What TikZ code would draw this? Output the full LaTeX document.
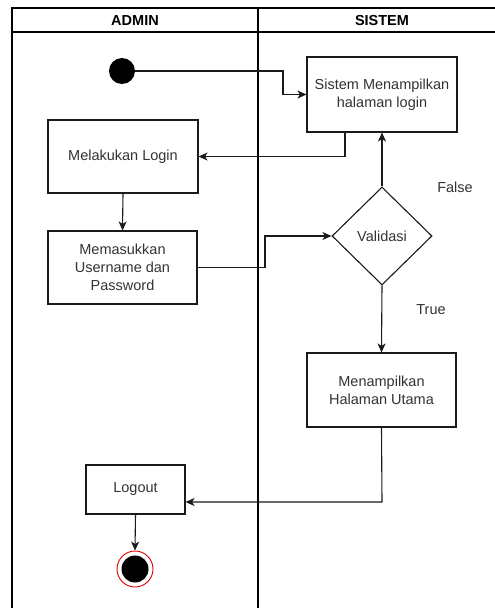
\documentclass[tikz,border=0pt]{standalone}
\usepackage{fontspec}
\setmainfont{Liberation Sans}
\usetikzlibrary{arrows.meta,shapes.geometric}
\definecolor{txt}{HTML}{333333}
\definecolor{ln}{HTML}{1A1A1A}
\tikzset{
  box/.style={draw=ln, line width=1.1pt, rectangle, align=center, text=txt, inner sep=2pt,
    font=\fontsize{14.5}{18}\selectfont},
  lab/.style={text=txt, font=\fontsize{14.5}{18}\selectfont, inner sep=0pt},
  head/.style={font=\bfseries\fontsize{14.5}{18}\selectfont, text=black, inner sep=0pt},
  frame/.style={draw=black, line width=1.4pt},
  flow/.style={draw=ln, line width=1.1pt, -{Stealth[length=9pt,width=8pt,inset=2.5pt]}},
}
\begin{document}
\begin{tikzpicture}[x=1pt,y=-1pt]
\useasboundingbox (0,0) rectangle (495,608);
\clip (0,0) rectangle (495,608);
\fill[white] (0,0) rectangle (495,608);
% frame
\draw[frame] (12,620) -- (12,8) -- (520,8);
\draw[frame] (12,32) -- (520,32);
\draw[frame] (258,8) -- (258,620);
\node[head] (hadmin) at (135,20.5) {ADMIN};
\node[head] (hsistem) at (382,20.5) {SISTEM};
% nodes
\node[circle, fill=black, minimum size=26pt, inner sep=0pt] (start) at (122,71) {};
\node[box, minimum width=150pt, minimum height=75pt] (login) at (382,94.5) {Sistem Menampilkan\\halaman login};
\node[box, minimum width=150pt, minimum height=73pt] (melakukan) at (123,156.5) {Melakukan Login};
\node[box, minimum width=149pt, minimum height=73pt] (input) at (122.5,267.5) {Memasukkan\\Username dan\\Password};
\node[diamond, draw=ln, line width=1.1pt, minimum width=100pt, minimum height=98pt, inner sep=0pt, text=txt, font=\fontsize{14.5}{18}\selectfont] (valid) at (382,236) {Validasi};
\node[box, minimum width=149pt, minimum height=74pt] (utama) at (381.5,390) {Menampilkan\\Halaman Utama};
\node[box, minimum width=99pt, minimum height=49pt] (logout) at (135.5,489.5) {Logout};
\node[circle, draw=red!85!black, line width=0.9pt, minimum size=36pt, inner sep=0pt] (endo) at (135,569) {};
\node[circle, fill=black, minimum size=27pt, inner sep=0pt] (endi) at (endo.center) {};
\node[lab] (lfalse) at (455,187) {False};
\node[lab] (ltrue) at (431,310) {True};
% connectors
\coordinate (c1) at (283,71);
\coordinate (c2) at (283,94.5);
\draw[flow] (start.east) -- (c1) -- (c2) -- (login.west);
\coordinate (c3) at (345,132);
\coordinate (c4) at (345,156.5);
\draw[flow] (c3) -- (c4) -- (melakukan.east);
\draw[flow] (melakukan.south) -- (input.north);
\coordinate (c5) at (265,267.5);
\coordinate (c6) at (265,236);
\draw[flow] (input.east) -- (c5) -- (c6) -- (valid.west);
\draw[flow] (valid.north) -- (login.south);
\draw[flow] (valid.south) -- (utama.north);
\coordinate (c7) at (382,502);
\coordinate (c8) at (logout.east |- c7);
\draw[flow] (utama.south) -- (c7) -- (c8);
\draw[flow] (logout.south) -- (endo.north);
\end{tikzpicture}
\end{document}
